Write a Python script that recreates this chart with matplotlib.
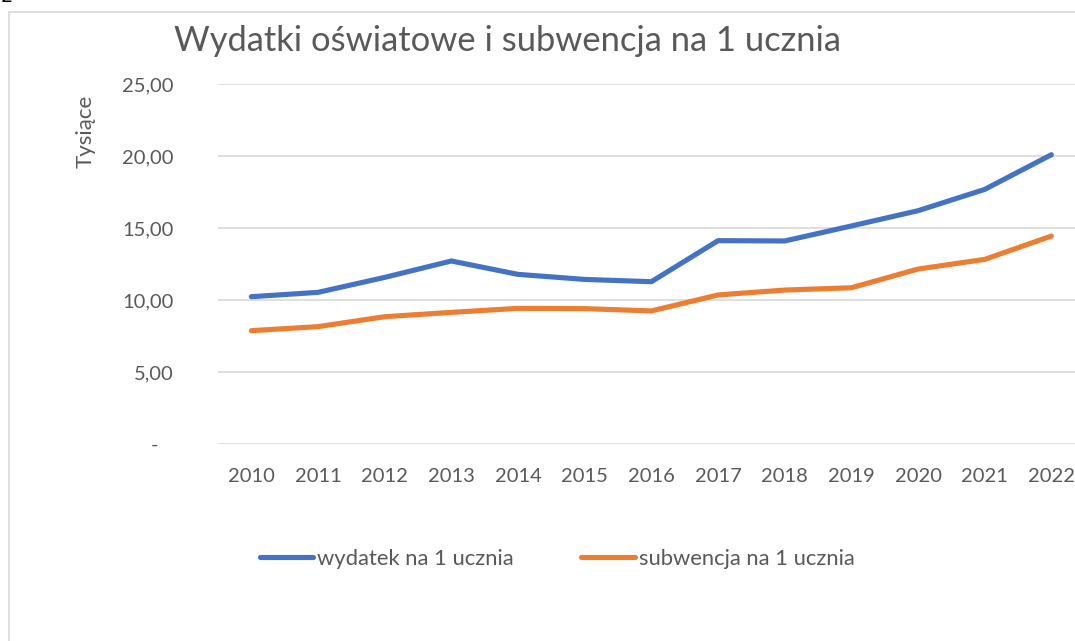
import matplotlib
matplotlib.use("Agg")
import matplotlib.pyplot as plt
from matplotlib.patches import Rectangle
from matplotlib.lines import Line2D

years = ["2010", "2011", "2012", "2013", "2014", "2015", "2016",
         "2017", "2018", "2019", "2020", "2021", "2022"]
wydatek = [10.23, 10.53, 11.57, 12.71, 11.78, 11.43, 11.27,
           14.12, 14.10, 15.14, 16.20, 17.68, 20.09]
subwencja = [7.87, 8.15, 8.84, 9.14, 9.42, 9.40, 9.24,
             10.35, 10.69, 10.85, 12.15, 12.82, 14.44]
yticks = [0, 5, 10, 15, 20, 25]
ytick_labels = ["-   ", "5,00", "10,00", "15,00", "20,00", "25,00"]
title = "Wydatki oświatowe i subwencja na 1 ucznia"
ylabel = "Tysiące"
series_names = ["wydatek na 1 ucznia", "subwencja na 1 ucznia"]

BLUE = "#4472C4"
ORANGE = "#ED7D31"
TXT = "#595959"
GRID = "#D9D9D9"
FONT = ["Lato", "DejaVu Sans"]

plt.rcParams["font.family"] = FONT

W, H = 1075, 641
fig = plt.figure(figsize=(W / 100, H / 100), dpi=100)

# axes: left 218px, bottom 444px, top 84px, right 1085px (cut off)
left, right, top, bottom = 218, 1084.7, 84, 444
ax = fig.add_axes([left / W, (H - bottom) / H, (right - left) / W, (bottom - top) / H])

x = list(range(len(years)))
ax.plot(x, wydatek, color=BLUE, lw=3.7, solid_capstyle="round", solid_joinstyle="round", zorder=3)
ax.plot(x, subwencja, color=ORANGE, lw=3.7, solid_capstyle="round", solid_joinstyle="round", zorder=3)

ax.set_xlim(-0.5, len(years) - 0.5)
ax.set_ylim(0, 25)
ax.set_yticks(yticks)
ax.set_yticklabels(ytick_labels)
ax.set_xticks(x)
ax.set_xticklabels(years)
ax.grid(axis="y", color=GRID, lw=1.2)
ax.set_axisbelow(True)
for s in ax.spines.values():
    s.set_visible(False)
ax.tick_params(axis="both", length=0, labelsize=14.5, colors=TXT)
ax.tick_params(axis="y", pad=32)
ax.tick_params(axis="x", pad=17)

fig.text(508 / W, 1 - 41 / H, title, ha="center", va="center", fontsize=24.8, color=TXT)
fig.text(86 / W, 1 - 131 / H, ylabel, ha="center", va="center", rotation=90, fontsize=16, color=TXT)

# legend
handles = [Line2D([0], [0], color=BLUE, lw=3.7, solid_capstyle="round"),
           Line2D([0], [0], color=ORANGE, lw=3.7, solid_capstyle="round")]
fig.legend(handles, series_names, loc="center", bbox_to_anchor=(557 / W, 1 - 559 / H),
           ncol=2, frameon=False, fontsize=15.8, labelcolor=TXT, handlelength=2.45,
           handletextpad=0.18, columnspacing=3.05)

# chart area border (cut off at right and bottom)
fig.add_artist(Rectangle((9 / W, -0.1), 1.2, (H - 11.5) / H + 0.1, transform=fig.transFigure,
                         fill=False, ec=GRID, lw=1.2))
# fragment of text above the chart
fig.text(1 / W, 1 - 2.5 / H, "2", va="baseline", ha="left", fontsize=14, color="black",
         family=["DejaVu Sans"])

fig.savefig("out.png", dpi=100)
